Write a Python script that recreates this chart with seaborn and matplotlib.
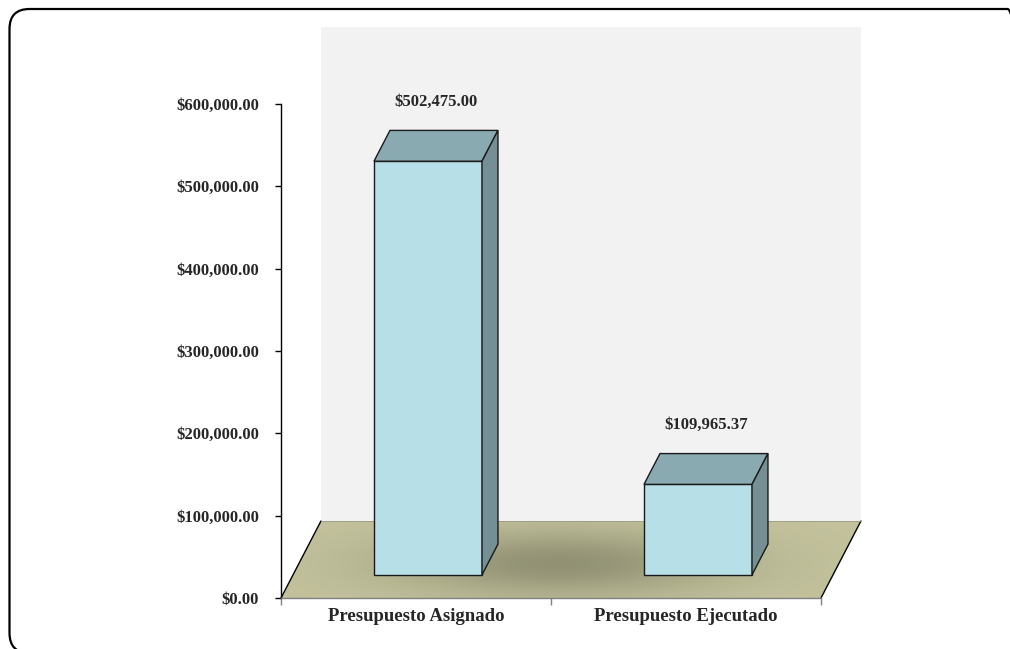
import numpy as np
import matplotlib
matplotlib.use('Agg')
import matplotlib.pyplot as plt
from matplotlib.patches import Polygon, FancyBboxPatch
from matplotlib.transforms import IdentityTransform
from matplotlib.ticker import FuncFormatter
import seaborn as sns

# ==================== datos ====================
categorias = ['Presupuesto Asignado', 'Presupuesto Ejecutado']
montos = [502475.00, 109965.37]
y_ticks = [0, 100000, 200000, 300000, 400000, 500000, 600000]

sns.set_style('white')
plt.rcParams['font.family'] = ['Liberation Serif', 'DejaVu Serif']
plt.rcParams['font.weight'] = 'bold'

# colores estilo Excel 3D
c_frente = '#b7dfe8'
c_tapa = '#8aaab2'
c_lado = '#768f94'
c_borde = '#1a1a1a'
c_piso = '#c3c29d'
c_pared = '#f2f2f2'

# profundidad (vector de perspectiva en unidades de datos)
DX, DY = 0.148, 93500
d0, d1 = 0.3, 0.7  # profundidad de las barras

fig = plt.figure(figsize=(10.1, 6.49), dpi=100, facecolor='white')
ax = fig.add_axes([281 / 1010, 51 / 649, 540 / 1010, 494 / 649])
ax.set_facecolor('none')

# barras frontales con seaborn
sns.barplot(x=categorias, y=montos, width=0.4, color=c_frente, saturation=1,
            edgecolor=c_borde, linewidth=1, ax=ax, zorder=5)

x0, x1 = -0.5, len(categorias) - 0.5
ymax = y_ticks[-1]

# pared del fondo
pared = Polygon([(x0 + DX, DY), (x1 + DX, DY), (x1 + DX, ymax + DY), (x0 + DX, ymax + DY)],
                closed=True, facecolor=c_pared, edgecolor='none', zorder=0.5, clip_on=False)
ax.add_patch(pared)

# piso
piso_xy = [(x0, 0), (x1, 0), (x1 + DX, DY), (x0 + DX, DY)]
piso = Polygon(piso_xy, closed=True, facecolor=c_piso, edgecolor='none', zorder=1, clip_on=False)
ax.add_patch(piso)

# sombra radial sobre el piso
gx = np.linspace(x0, x1 + DX, 400)
gy = np.linspace(0, DY, 120)
GX, GY = np.meshgrid(gx, gy)
r2 = ((GX - 0.53) / 0.6) ** 2 + ((GY - 0.45 * DY) / (0.42 * DY)) ** 2
alpha = 0.55 * np.exp(-r2)
img = np.zeros(GX.shape + (4,))
img[..., 0] = 105 / 255
img[..., 1] = 105 / 255
img[..., 2] = 82 / 255
img[..., 3] = alpha
im = ax.imshow(img, extent=[x0, x1 + DX, 0, DY], origin='lower', aspect='auto',
               zorder=1.5, interpolation='bilinear')
im.set_clip_path(piso)
im.set_clip_box(fig.bbox)

# bordes del piso
ax.plot([x0, x0 + DX], [0, DY], color='black', lw=1, zorder=2, clip_on=False)
ax.plot([x1, x1 + DX], [0, DY], color='black', lw=1, zorder=2, clip_on=False)
ax.plot([x0 + DX, x1 + DX], [DY, DY], color='#9a9a80', lw=0.6, zorder=2, clip_on=False)

# caras superiores y laterales de cada barra
d = d1 - d0
for p, v in zip(ax.patches[:len(montos)], montos):
    bx = p.get_x() + DX * d0
    w = p.get_width()
    by = DY * d0
    h = p.get_height()
    p.set_x(bx)
    p.set_y(by)
    tapa = Polygon([(bx, by + h), (bx + w, by + h), (bx + w + DX * d, by + h + DY * d),
                    (bx + DX * d, by + h + DY * d)], closed=True,
                   facecolor=c_tapa, edgecolor=c_borde, lw=1, zorder=5, clip_on=False)
    lado = Polygon([(bx + w, by), (bx + w + DX * d, by + DY * d),
                    (bx + w + DX * d, by + h + DY * d), (bx + w, by + h)], closed=True,
                   facecolor=c_lado, edgecolor=c_borde, lw=1, zorder=5, clip_on=False)
    ax.add_patch(tapa)
    ax.add_patch(lado)
    ax.annotate(f'${v:,.2f}', xy=(bx + w / 2 + DX * 0.2, by + h + DY * 0.2),
                xytext=(0, 44), textcoords='offset pixels', ha='center', va='center',
                fontsize=12, fontweight='bold', zorder=6, annotation_clip=False)

# ejes
ax.set_xlim(x0, x1)
ax.set_ylim(0, ymax)
ax.set_yticks(y_ticks)
ax.yaxis.set_major_formatter(FuncFormatter(lambda v, pos: f'${v:,.2f}'))
ax.tick_params(axis='y', which='major', direction='out', length=4, width=1,
               color='black', pad=12, labelsize=12, left=True)
ax.set_xticks(range(len(categorias)))
ax.set_xticklabels(categorias, fontsize=13.5, fontweight='bold')
ax.set_xticks([x0 + i for i in range(len(categorias) + 1)], minor=True)
ax.tick_params(axis='x', which='major', length=0, pad=7)
ax.tick_params(axis='x', which='minor', direction='out', length=5, width=1,
               color='#808080', bottom=True)
for lbl in ax.get_yticklabels():
    lbl.set_fontweight('bold')
ax.set_xlabel('')
ax.set_ylabel('')
for s in ['top', 'right']:
    ax.spines[s].set_visible(False)
ax.spines['left'].set_color('black')
ax.spines['left'].set_linewidth(1)
ax.spines['left'].set_zorder(3)
ax.spines['bottom'].set_color('#808080')
ax.spines['bottom'].set_linewidth(1)
ax.spines['bottom'].set_zorder(3)

# marco redondeado del grafico
marco = FancyBboxPatch((9.5, -4), 1018, 644, boxstyle='round,pad=0,rounding_size=20',
                       facecolor='none', edgecolor='black', lw=1.6,
                       transform=IdentityTransform())
fig.add_artist(marco)

fig.savefig('out.png', dpi=100)
